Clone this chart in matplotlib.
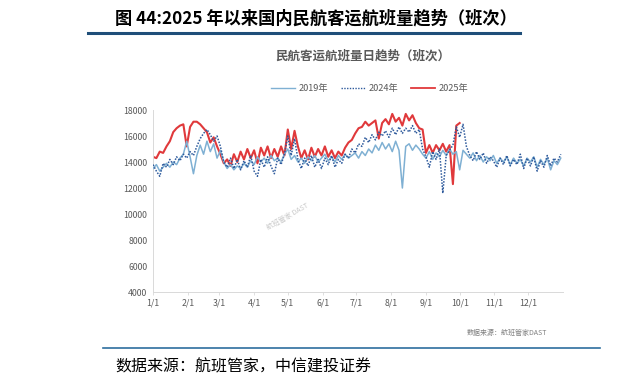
import matplotlib
matplotlib.use("Agg")
import matplotlib.pyplot as plt
from matplotlib.lines import Line2D
import numpy as np

plt.rcParams['font.family'] = ['Noto Sans CJK SC', 'DejaVu Sans']

# ---- data (day-of-year, every 3 days) ----
days_2019 = list(range(0, 364, 3))
vals_2019 = [13500, 13800, 13300, 13600, 13900, 13600, 14000, 13800, 14300, 14600,
             15600, 14400, 13100, 14500, 15300, 14600, 15600, 14800, 15400, 14300,
             14900, 14000, 13500, 13800, 13400, 13700, 13500, 13900, 13600, 14100,
             13800, 14400, 14000, 14300, 13900, 14500, 14100, 14300, 14000, 14600,
             15000, 14200, 14500, 14000, 14300, 13900, 14400, 14100, 14500, 14000,
             14300, 14600, 14100, 14400, 14000, 14500, 14200, 14600, 14300, 14500,
             14700, 14300, 14800, 14500, 15000, 14700, 15300, 14900, 15500, 15000,
             15400, 14800, 15600, 14900, 12000, 15200, 15400, 14900, 15300, 15000,
             14600, 14300, 14800, 14200, 14700, 14400, 14900, 14500, 15000, 14600,
             14800, 13400, 14900, 14600, 14300, 14700, 14100, 14500, 14000, 14400,
             14100, 14500, 13900, 14300, 14000, 14400, 13800, 14300, 13900, 14200,
             13700, 14300, 14000, 14400, 13600, 14200, 13800, 14300, 13400, 14100,
             13800, 14300]

days_2024 = list(range(0, 364, 3))
vals_2024 = [13800, 13300, 12900, 13900, 13600, 14200, 13800, 14400, 14100, 14600,
             14300, 14800, 14500, 15200, 15800, 16200, 16500, 16100, 15600, 16000,
             15200, 14000, 13600, 14300, 13500, 14200, 13400, 14100, 13600, 14500,
             13300, 12900, 14200, 13600, 14400, 13700, 13100, 14300, 13800, 14600,
             16000, 14500, 15800, 14200, 13500, 14300, 13700, 14500, 13600, 14200,
             13500, 14300, 13800, 14500, 13600, 14200, 13900, 14600, 14300, 15000,
             14700, 15400, 15200, 15900, 15500, 16100, 15700, 16300, 16000, 16400,
             15900, 16600, 16100, 16700, 16200, 16600, 16300, 16800, 16200, 16500,
             15000, 14400, 13600, 14800, 14200, 15000, 11600, 14500, 14900, 15300,
             16700, 15900, 16900, 15200, 14500, 14100, 14800, 14200, 14700, 13900,
             14400, 14100, 13600, 14300, 13800, 14500, 13700, 14200, 13800, 14600,
             13500, 14300, 13700, 14400, 13300, 14100, 13600, 14500, 13700, 14300,
             14000, 14600]

days_2025 = list(range(0, 274, 3))
vals_2025 = [14400, 14300, 14800, 14700, 15200, 15600, 16300, 16600, 16800, 16900,
             15200, 16700, 17100, 17100, 16900, 16600, 16300, 15500, 15900, 15200,
             14600, 13900, 14200, 13700, 14600, 14000, 14800, 14200, 15000, 14300,
             14900, 13900, 15100, 14500, 15200, 14300, 15000, 14400, 15200, 14500,
             16500, 15000, 16400, 15200, 14300, 14900, 14200, 15100, 14400, 15000,
             14500, 15200, 14400, 14900, 14300, 14800, 14500, 15100, 15500, 15700,
             16200, 16600, 16700, 17100, 16800, 17000, 17200, 15800, 17000, 17300,
             16900, 17700, 17100, 17400, 16800, 17700, 17200, 17600, 17000, 16600,
             16500, 14700, 15300, 14700, 15300, 14900, 15400, 14800, 15300, 12300,
             16800, 17000]

month_pos = [0, 31, 59, 90, 120, 151, 181, 212, 243, 273, 304, 334]
month_labels = ['1/1', '2/1', '3/1', '4/1', '5/1', '6/1', '7/1', '8/1', '9/1', '10/1', '11/1', '12/1']
y_ticks = [4000, 6000, 8000, 10000, 12000, 14000, 16000, 18000]

series_names = ['2019年', '2024年', '2025年']

# ---- figure ----
fig = plt.figure(figsize=(6.21, 3.86), dpi=100)
fig.patch.set_facecolor('white')

ax = fig.add_axes([0.2464, 0.2435, 0.6602, 0.4715])

c19 = '#7fb0d3'
c24 = '#2e5a9c'
c25 = '#e0393b'

ax.plot(days_2025, vals_2025, color=c25, lw=1.5, zorder=2)
ax.plot(days_2019, vals_2019, color=c19, lw=1.1, zorder=3)
ax.plot(days_2024, vals_2024, color=c24, lw=1.1, ls=(0, (1, 1)), zorder=4)

ax.set_xlim(0, 365)
ax.set_ylim(4000, 18000)
ax.set_xticks(month_pos)
ax.set_xticklabels(month_labels)
ax.set_yticks(y_ticks)
ax.set_yticklabels([str(v) for v in y_ticks])
ax.tick_params(axis='both', labelsize=6.3, colors='#595959', pad=2)
ax.tick_params(axis='y', length=0, pad=4)
ax.tick_params(axis='x', length=2.5, color='#d9d9d9', width=0.6)
for s in ['top', 'right']:
    ax.spines[s].set_visible(False)
for s in ['left', 'bottom']:
    ax.spines[s].set_color('#d9d9d9')
    ax.spines[s].set_linewidth(0.7)

# watermark
ax.text(120, 9800, '航班管家 DAST', fontsize=5, color='#c8c8c8', rotation=30,
        ha='center', va='center', zorder=1)

# legend
handles = [Line2D([], [], color=c19, lw=1.0),
           Line2D([], [], color=c24, lw=1.0, ls=(0, (1, 1))),
           Line2D([], [], color=c25, lw=1.3)]
fig.legend(handles, series_names, loc='center', bbox_to_anchor=(0.595, 1 - 89 / 386),
           ncol=3, frameon=False, fontsize=6.6, labelcolor='#595959',
           handlelength=2.6, columnspacing=1.4, handletextpad=0.4)

# inner chart title
fig.text(363 / 621, 1 - 56 / 386, '民航客运航班量日趋势（班次）', fontsize=9,
         fontweight='bold', color='#595959', ha='center', va='center')

# source inside chart
fig.text(547 / 621, 1 - 333 / 386, '数据来源：航班管家DAST', fontsize=5,
         color='#7f7f7f', ha='right', va='center')

# report title
fig.text(115 / 621, 1 - 18 / 386, '图 44:2025 年以来国内民航客运航班量趋势（班次）',
         fontsize=12.4, fontweight='bold', color='black', ha='left', va='center')

# lines
fig.add_artist(Line2D([88 / 621, 520 / 621], [1 - 33 / 386, 1 - 33 / 386],
                      color='#1f4e79', lw=2.2))
fig.add_artist(Line2D([103 / 621, 600 / 621], [1 - 348 / 386, 1 - 348 / 386],
                      color='#2e6e9e', lw=1.2))

# bottom caption
fig.text(115 / 621, 1 - 367 / 386, '数据来源：航班管家，中信建投证券', fontsize=11.5,
         color='black', ha='left', va='center')

fig.savefig('out.png', dpi=100)
